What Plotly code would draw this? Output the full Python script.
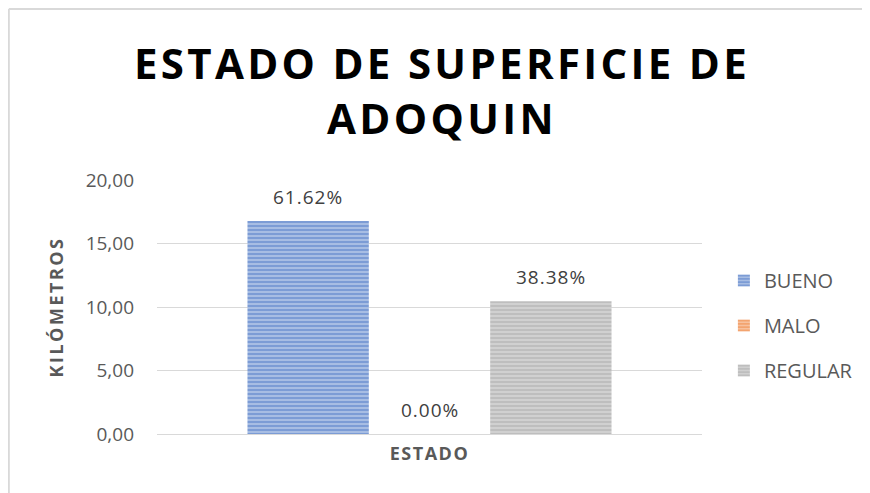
import plotly.graph_objects as go

categories = ["ESTADO"]
series_names = ["BUENO", "MALO", "REGULAR"]
values = [16.78, 0.0, 10.45]
pct_labels = ["61.62%", "0.00%", "38.38%"]
fg_colors = ["#4472C4", "#ED7D31", "#A5A5A5"]
bg_colors = ["#B4C7E7", "#F8CBAD", "#D6D6D6"]
y_ticks = [0, 5, 10, 15, 20]

# page is drawn with an 8px body margin, so figure coords = screen - 8
W, H = 862, 485
L, R, T, B = 149, 165, 172, 59
pw, ph = W - L - R, H - T - B
BARGAP = 0.332

fig = go.Figure()
for name, v, fg, bg in zip(series_names, values, fg_colors, bg_colors):
    fig.add_trace(go.Bar(
        x=categories, y=[v], name=name,
        marker=dict(color=bg, line=dict(width=0),
                    pattern=dict(shape="-", fgcolor=fg, bgcolor=bg, size=4, solidity=0.62)),
        legendgroup=name,
    ))

# data labels above each grouped bar (bar centres derived from bargap)
n = len(series_names)
bw = (1 - BARGAP) / n
annotations = []
for i, (v, lab) in enumerate(zip(values, pct_labels)):
    annotations.append(dict(
        x=(i - (n - 1) / 2) * bw, y=v, xref="x", yref="y",
        text=f'<span style="letter-spacing:1px">{lab}</span>',
        showarrow=False, yanchor="middle", yshift=24,
        font=dict(size=19, color="#404040", family="Open Sans"),
    ))

def px_x(p):
    return (p - L) / pw

def px_y(p):
    return (H - B - p) / ph

fig.update_layout(
    width=W, height=H,
    margin=dict(l=L, r=R, t=T, b=B),
    paper_bgcolor="white", plot_bgcolor="white",
    separators=",.",
    barmode="group", bargap=BARGAP, bargroupgap=0,
    font=dict(family="Open Sans", color="#595959"),
    title=dict(
        text='<b><span style="letter-spacing:3.3px">ESTADO DE SUPERFICIE DE<br>ADOQUIN</span></b>',
        x=434 / W, xanchor="center", y=1 - 71 / H, yanchor="middle",
        font=dict(size=42, color="#000000", family="Open Sans"),
    ),
    annotations=annotations,
    legend=dict(x=px_x(719), y=px_y(253), xanchor="left", yanchor="top",
                font=dict(size=20, color="#595959"), traceorder="grouped",
                tracegroupgap=16, itemwidth=30),
    xaxis=dict(showticklabels=False, showline=False, ticks="",
               title=dict(text='<b><span style="letter-spacing:1.5px">ESTADO</span></b>',
                          font=dict(size=18, color="#595959"), standoff=13)),
    yaxis=dict(range=[0, 20], tickvals=y_ticks, tickformat=".2f",
               showgrid=True, gridcolor="#D9D9D9", gridwidth=1,
               zeroline=True, zerolinecolor="#D9D9D9", zerolinewidth=1,
               tickfont=dict(size=19, color="#595959"), ticks="", ticklabelstandoff=22,
               title=dict(text='<b><span style="letter-spacing:2.5px">KILÓMETROS</span></b>',
                          font=dict(size=18, color="#595959"), standoff=17)),
    shapes=[
        dict(type="line", xref="paper", yref="paper", x0=px_x(0), x1=px_x(W + 5),
             y0=px_y(1), y1=px_y(1), line=dict(color="#D9D9D9", width=2), layer="below"),
        dict(type="line", xref="paper", yref="paper", x0=px_x(0), x1=px_x(0),
             y0=px_y(1), y1=px_y(H + 5), line=dict(color="#D9D9D9", width=2), layer="below"),
    ],
)

fig.write_html("out.html")
